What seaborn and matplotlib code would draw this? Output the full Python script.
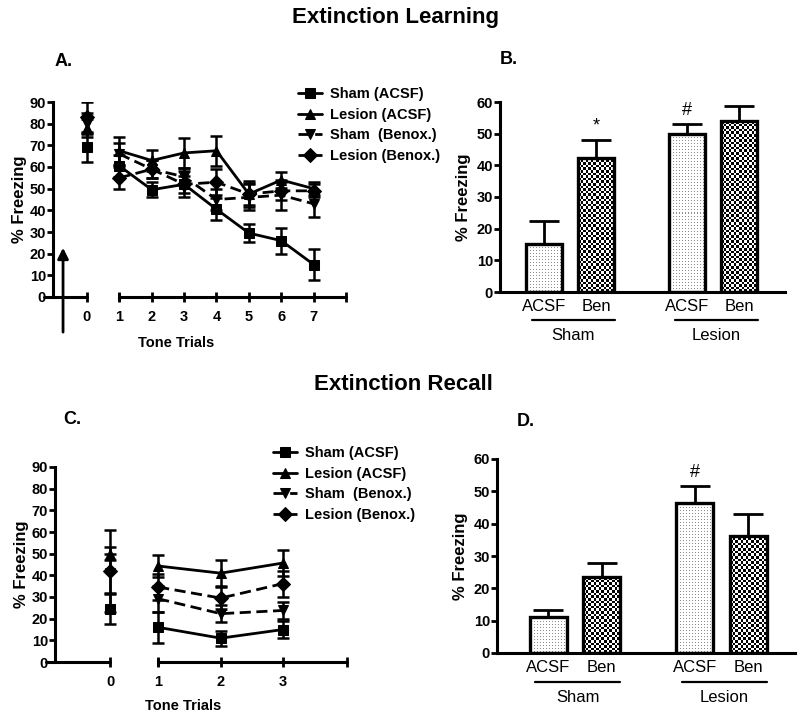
import numpy as np
import pandas as pd
import matplotlib
matplotlib.use('Agg')
import matplotlib.pyplot as plt
import seaborn as sns

# ── Data ──────────────────────────────────────────────────────────────────────
GROUPS = ['Sham (ACSF)', 'Lesion (ACSF)', 'Sham  (Benox.)', 'Lesion (Benox.)']

# Extinction learning (panel A), trial 0 = pre-tone
learn_trials = [0, 1, 2, 3, 4, 5, 6, 7]
learn_mean = {
    'Sham (ACSF)':     [69, 60.5, 49.5, 52, 40.5, 29.5, 26, 15],
    'Lesion (ACSF)':   [78, 67.5, 63, 66.5, 67.5, 47.5, 54, 50],
    'Sham  (Benox.)':  [80, 66, 59, 55.5, 45, 46, 47, 43],
    'Lesion (Benox.)': [83, 55, 59, 52, 53, 47.5, 49, 49],
}
learn_sem = {
    'Sham (ACSF)':     [6.5, 5, 3.5, 4, 5, 4, 6, 7.3],
    'Lesion (ACSF)':   [4, 6.5, 5, 7, 7, 5, 3.5, 3],
    'Sham  (Benox.)':  [5, 5, 4, 4, 5, 6, 7, 6],
    'Lesion (Benox.)': [7, 5, 4, 6, 6, 6, 4, 3],
}

# Extinction recall (panel C)
recall_trials = [0, 1, 2, 3]
recall_mean = {
    'Sham (ACSF)':     [24.5, 16, 11, 15],
    'Lesion (ACSF)':   [50, 44.3, 41, 45.7],
    'Sham  (Benox.)':  [41, 29.2, 22.3, 23.8],
    'Lesion (Benox.)': [42, 34.6, 29.5, 36.2],
}
recall_sem = {
    'Sham (ACSF)':     [7, 7, 3.5, 4],
    'Lesion (ACSF)':   [3, 5.2, 6, 5.8],
    'Sham  (Benox.)':  [9, 6, 4, 4],
    'Lesion (Benox.)': [19, 6, 5, 6],
}

# Bar panels B and D
bar_surgery = ['Sham', 'Sham', 'Lesion', 'Lesion']
bar_drug    = ['ACSF', 'Ben', 'ACSF', 'Ben']
learn_bar_mean = [15.3, 42.4, 50, 54]
learn_bar_sem  = [7.2, 5.7, 3, 4.7]
learn_bar_mark = ['', '*', '#', '']
recall_bar_mean = [11, 23.5, 46.3, 36.2]
recall_bar_sem  = [2.2, 4.2, 5.3, 6.8]
recall_bar_mark = ['', '', '#', '']

# ── Style ─────────────────────────────────────────────────────────────────────
sns.set_style('white')
plt.rcParams['font.family'] = ['Liberation Sans', 'DejaVu Sans']
plt.rcParams['axes.linewidth'] = 2.2
for key in ['text.color', 'axes.labelcolor', 'xtick.color', 'ytick.color', 'axes.edgecolor']:
    plt.rcParams[key] = 'black'

W, H = 800, 713
MARKERS = {'Sham (ACSF)': 's', 'Lesion (ACSF)': '^',
           'Sham  (Benox.)': 'v', 'Lesion (Benox.)': 'D'}
DASHES = {'Sham (ACSF)': '', 'Lesion (ACSF)': '',
          'Sham  (Benox.)': (4, 2), 'Lesion (Benox.)': (4, 2)}

fig = plt.figure(figsize=(W / 100, H / 100), dpi=100)


def px_axes(left, right, bottom, top):
    return fig.add_axes([left / W, 1 - bottom / H, (right - left) / W, (bottom - top) / H])


# ── Line panels ───────────────────────────────────────────────────────────────
def line_panel(ax, trials, means, sems, zero_pos, xlim, xend, legend_xy):
    rows = []
    for g in GROUPS:
        for t, m, s in zip(trials, means[g], sems[g]):
            rows.append({'group': g, 'trial': t, 'pos': zero_pos if t == 0 else t,
                         'seg': 0 if t == 0 else 1, 'mean': m, 'sem': s})
    df = pd.DataFrame(rows)

    for g in GROUPS:
        d = df[df.group == g]
        ax.errorbar(d['pos'], d['mean'], yerr=d['sem'], fmt='none', ecolor='black',
                    elinewidth=1.8, capsize=4.5, capthick=1.8, zorder=2)

    sns.lineplot(data=df, x='pos', y='mean', hue='group', style='group',
                 units='seg', estimator=None, palette=['black'] * 4,
                 markers=MARKERS, dashes=DASHES, markersize=7, linewidth=2,
                 markeredgecolor='black', ax=ax, legend=True, zorder=3, sort=True)

    ax.set_xlim(*xlim)
    ax.set_ylim(0, 90)
    ax.set_yticks(np.arange(0, 91, 10))
    ticks = [zero_pos] + list(trials[1:]) + [xend]
    labels = ['0'] + [str(t) for t in trials[1:]] + ['']
    ax.set_xticks(ticks, labels)
    ax.tick_params(axis='x', direction='inout', length=7, width=2, pad=6, labelsize=10.5)
    ax.tick_params(axis='y', direction='out', length=4, width=2, pad=1, labelsize=10.5)
    ax.tick_params(left=True, bottom=True)
    for lab in ax.get_xticklabels() + ax.get_yticklabels():
        lab.set_fontweight('bold')

    # broken x axis: two segments
    ax.spines['bottom'].set_visible(False)
    ax.spines['top'].set_visible(False)
    ax.spines['right'].set_visible(False)
    ax.plot([xlim[0] - 0.03 * (xlim[1] - xlim[0]), zero_pos], [0, 0], color='black',
            lw=2.2, clip_on=False, zorder=4)
    ax.plot([1, xend], [0, 0], color='black', lw=2.2, clip_on=False, zorder=4)
    ax.plot([1, 1], [-1.5, 1.5], color='black', lw=2.2, clip_on=False, zorder=4)

    ax.set_ylabel('% Freezing', fontsize=12, fontweight='bold', labelpad=2)
    ax.set_xlabel('Tone Trials', fontsize=10.5, fontweight='bold')

    handles, labs = ax.get_legend_handles_labels()
    ax.legend(handles, labs, loc='upper left',
              bbox_to_anchor=(legend_xy[0] / W, 1 - legend_xy[1] / H),
              bbox_transform=fig.transFigure, frameon=False, handlelength=1.6,
              handletextpad=0.6, labelspacing=0.45, borderpad=0,
              prop={'weight': 'bold', 'size': 10.5})


axA = px_axes(53, 346, 297, 102)
line_panel(axA, learn_trials, learn_mean, learn_sem, 0, (-1.05, 8.0), 8,
           (291, 80))
axA.xaxis.set_label_coords(0.42, -0.2)
axA.annotate('', xy=(-0.74, 24), xytext=(-0.74, -17.5),
             arrowprops=dict(arrowstyle='-|>', lw=2, color='black', mutation_scale=16),
             annotation_clip=False)

axC = px_axes(55, 347, 662, 467)
line_panel(axC, recall_trials, recall_mean, recall_sem, 0.23, (-0.65, 4.02), 4.02,
           (266, 439))
axC.xaxis.set_label_coords(0.44, -0.19)


# ── Bar panels ────────────────────────────────────────────────────────────────
def fill_pattern(ax, patch, kind):
    x0, y0 = patch.get_x(), patch.get_y()
    w, h = patch.get_width(), patch.get_height()
    (px0, py0), (px1, py1) = ax.transData.transform([(x0, y0), (x0 + w, y0 + h)])
    if kind == 'Ben':
        cell = 2.6
        nx = max(1, int(round((px1 - px0) / cell)))
        ny = max(1, int(round((py1 - py0) / cell)))
        i, j = np.indices((ny, nx))
        img = ((i + j) % 2).astype(float)
    else:
        nx = max(1, int(round(px1 - px0)))
        ny = max(1, int(round(py1 - py0)))
        i, j = np.indices((ny, nx))
        img = np.where((i % 3 == 1) & (j % 3 == 1), 0.55, 1.0)
    ax.imshow(img, extent=(x0, x0 + w, y0, y0 + h), cmap='gray', vmin=0, vmax=1,
              interpolation='nearest', aspect='auto', zorder=1.5)


def bar_panel(ax, means, sems, marks, xlim):
    df = pd.DataFrame({'surgery': bar_surgery, 'drug': bar_drug, 'mean': means})
    sns.barplot(data=df, x='surgery', y='mean', hue='drug', width=0.728, gap=0.31,
                palette=['white', 'white'], edgecolor='black', linewidth=2.4,
                legend=False, ax=ax)
    ax.set_xlim(*xlim)
    ax.set_ylim(0, 60)
    bars = sorted(ax.patches, key=lambda p: p.get_x())
    centers = []
    for p, d, m, s, mk in zip(bars, bar_drug, means, sems, marks):
        p.set_facecolor('none')
        p.set_zorder(2)
        fill_pattern(ax, p, d)
        cx = p.get_x() + p.get_width() / 2
        centers.append(cx)
        ax.errorbar([cx], [m], yerr=[[0], [s]], fmt='none', ecolor='black',
                    elinewidth=2, capsize=11, capthick=2, zorder=1.8)
        if mk:
            ax.text(cx, m + s + 1.5, mk, ha='center', va='bottom', fontsize=13)
    ax.set_xlim(*xlim)
    ax.set_ylim(0, 60)
    ax.set_yticks(np.arange(0, 61, 10))
    ax.set_xticks(centers, bar_drug)
    ax.tick_params(axis='x', length=0, pad=5, labelsize=12)
    ax.tick_params(axis='y', direction='out', length=4, width=2, pad=1, labelsize=10.5)
    ax.tick_params(left=True)
    for lab in ax.get_yticklabels():
        lab.set_fontweight('bold')
    ax.spines['top'].set_visible(False)
    ax.spines['right'].set_visible(False)
    ax.set_xlabel('')
    ax.set_ylabel('% Freezing', fontsize=12, fontweight='bold', labelpad=4)

    trans = ax.get_xaxis_transform()
    for k, name in enumerate(['Sham', 'Lesion']):
        ax.plot([k - 0.27, k + 0.31], [-0.148, -0.148], color='black', lw=1.6,
                transform=trans, clip_on=False)
        ax.text(k + 0.02, -0.23, name, transform=trans, ha='center', va='center',
                fontsize=12)


axB = px_axes(500, 785, 292, 102)
bar_panel(axB, learn_bar_mean, learn_bar_sem, learn_bar_mark, (-0.49, 1.5))

axD = px_axes(497, 795, 653, 459)
bar_panel(axD, recall_bar_mean, recall_bar_sem, recall_bar_mark, (-0.53, 1.5))

# ── Titles and panel letters ──────────────────────────────────────────────────
fig.text(395 / W, 1 - 17 / H, 'Extinction Learning', ha='center', va='center',
         fontsize=16, fontweight='bold')
fig.text(403 / W, 1 - 385 / H, 'Extinction Recall', ha='center', va='center',
         fontsize=16, fontweight='bold')
for lab, (x, y) in {'A.': (55, 62), 'B.': (500, 59), 'C.': (63, 420), 'D.': (517, 421)}.items():
    fig.text(x / W, 1 - y / H, lab, ha='left', va='center', fontsize=13, fontweight='bold')

fig.savefig('out.png', dpi=100)
